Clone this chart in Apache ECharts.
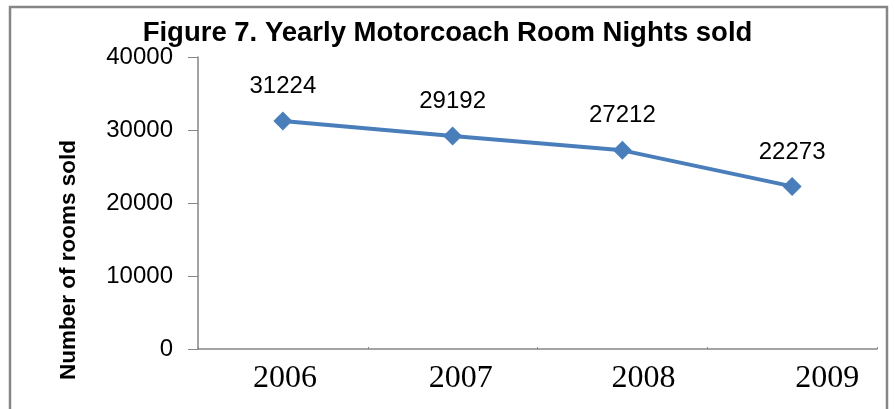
<!DOCTYPE html>
<html lang="en">
<head>
    <meta charset="UTF-8">
    <title>Figure 7</title>
    <style>
        * { margin: 0; padding: 0; }
        body { background: #fff; }
        #chart { width: 895px; height: 409px; }
    </style>
</head>
<body>
    <div id="chart"></div>
    <script src="https://cdn.jsdelivr.net/npm/echarts@6/dist/echarts.min.js"></script>
    <script>
        // data
        var years = ['2006', '2007', '2008', '2009'];
        var roomNights = [31224, 29192, 27212, 22273];
        var yTicks = [0, 10000, 20000, 30000, 40000];

        var chart = echarts.init(document.getElementById('chart'));

        // the year labels drift right in the original, nudge them a bit
        var shift = { '2006': 4, '2007': 16, '2008': 42, '2009': 70 };
        var rich = {};
        years.forEach(function (y) {
            rich['y' + y] = {
                fontFamily: 'Liberation Serif',
                fontSize: 32,
                color: '#000',
                padding: [0, 0, 0, shift[y]]
            };
        });

        var option = {
            animation: false,
            title: {
                text: 'Figure 7. Yearly Motorcoach Room Nights sold',
                left: 'center',
                top: 14,
                textStyle: {
                    fontFamily: 'Liberation Sans',
                    fontWeight: 'bold',
                    fontSize: 27.5,
                    color: '#000'
                }
            },
            graphic: [{
                type: 'rect',
                shape: { x: 10, y: 7, width: 877, height: 430 },
                style: { fill: 'none', stroke: '#868686', lineWidth: 2.5 },
                z: -1
            }],
            grid: { left: 198, right: 18, top: 57, bottom: 60 },
            xAxis: {
                type: 'category',
                data: years,
                boundaryGap: true,
                axisLine: { lineStyle: { color: '#868686', width: 1.5 } },
                axisTick: { show: true, length: 2, inside: true, lineStyle: { color: '#868686' } },
                axisLabel: {
                    margin: 14,
                    formatter: function (v) { return '{y' + v + '|' + v + '}'; },
                    rich: rich
                }
            },
            yAxis: {
                type: 'value',
                min: yTicks[0],
                max: yTicks[yTicks.length - 1],
                interval: yTicks[1] - yTicks[0],
                name: 'Number of rooms sold',
                nameLocation: 'middle',
                nameRotate: 90,
                nameGap: 118,
                nameTextStyle: {
                    fontFamily: 'Liberation Sans',
                    fontWeight: 'bold',
                    fontSize: 22.5,
                    color: '#000',
                    padding: [0, 114, 0, 0]
                },
                splitLine: { show: false },
                axisLine: { show: true, lineStyle: { color: '#868686', width: 1.5 } },
                axisTick: { show: true, length: 10, lineStyle: { color: '#868686' } },
                axisLabel: {
                    margin: 25,
                    fontFamily: 'Liberation Sans',
                    fontSize: 24,
                    color: '#000',
                    formatter: function (v) { return String(v); }
                }
            },
            series: [{
                type: 'line',
                data: roomNights,
                symbol: 'diamond',
                symbolSize: 19,
                lineStyle: { color: '#4a7ebb', width: 4 },
                itemStyle: { color: '#4a7ebb' },
                label: {
                    show: true,
                    position: 'top',
                    distance: 13,
                    fontFamily: 'Liberation Sans',
                    fontSize: 24,
                    color: '#000'
                }
            }]
        };

        chart.setOption(option);
    </script>
</body>
</html>
